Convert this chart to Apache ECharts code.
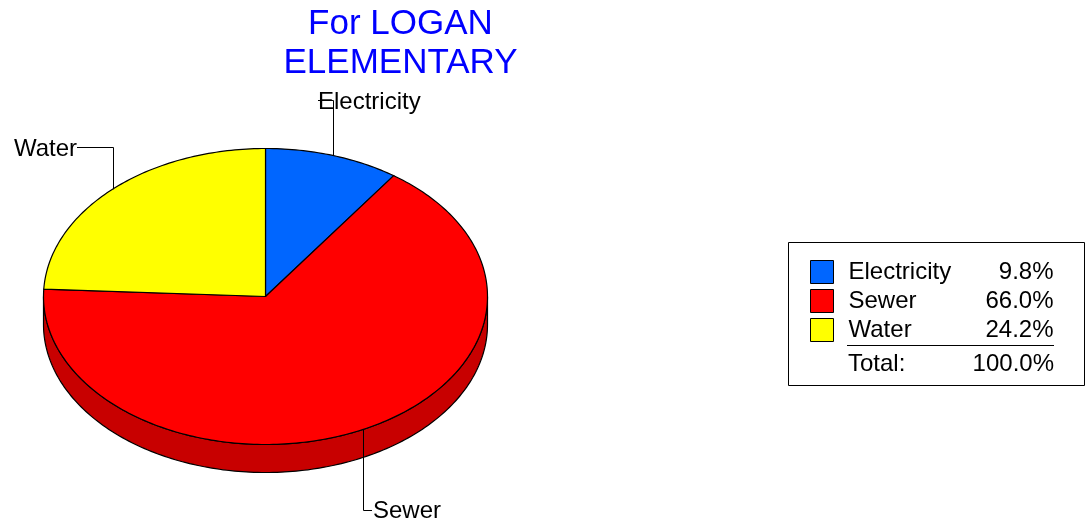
<!DOCTYPE html>
<html>
<head>
<meta charset="utf-8">
<style>html,body{margin:0;padding:0;background:#fff}#c{width:1086px;height:522px}</style>
<script src="https://cdn.jsdelivr.net/npm/echarts@6/dist/echarts.min.js"></script>
</head>
<body>
<div id="c"></div>
<script>
const categories = ['Electricity', 'Sewer', 'Water'];
const shares = [9.8, 66.0, 24.2];
const totalLabel = 'Total:';
const totalValue = '100.0%';
const titleLines = ['For LOGAN', 'ELEMENTARY'];
const colors = ['#0066FF', '#FF0000', '#FFFF00'];
const sideColors = ['#0052CC', '#C80000', '#CCCC00'];

const FONT = '"Liberation Sans", Arial, sans-serif';
const CX = 265.5, CY = 296.5, RX = 222, RY = 148, DEPTH = 28;
const leaders = [
  { x: 318, y: 100, ty: 102, tx: 318, align: 'left' },
  { x: 372, y: 510, ty: 511, tx: 373, align: 'left' },
  { x: 77, y: 147, ty: 149, tx: 77, align: 'right' }
];

const ptAt = (deg, dy) => {
  const a = deg * Math.PI / 180;
  return [CX + RX * Math.sin(a), CY + (dy || 0) - RY * Math.cos(a)];
};
const arc = (from, to, dy) => {
  const pts = [];
  const n = Math.max(2, Math.ceil(Math.abs(to - from)));
  for (let i = 0; i <= n; i++) pts.push(ptAt(from + (to - from) * i / n, dy));
  return pts;
};

const total = shares.reduce((s, v) => s + v, 0);
const series = categories.map((name, idx) => {
  const before = shares.slice(0, idx).reduce((s, v) => s + v, 0);
  return {
    type: 'custom',
    name,
    coordinateSystem: 'none',
    silent: true,
    itemStyle: { color: colors[idx] },
    data: [[shares[idx]]],
    z: 2 + idx,
    renderItem: (params, api) => {
      const value = api.value(0);
      const start = before / total * 360;
      const end = start + value / total * 360;
      const mid = (start + end) / 2;
      const children = [];
      const wallFrom = Math.max(start, 90), wallTo = Math.min(end, 270);
      if (wallTo > wallFrom) {
        children.push({
          type: 'polygon',
          shape: { points: arc(wallFrom, wallTo, 0).concat(arc(wallTo, wallFrom, DEPTH)) },
          style: { fill: sideColors[idx], stroke: '#000', lineWidth: 1.2 }
        });
      }
      children.push({
        type: 'polygon',
        shape: { points: [[CX, CY]].concat(arc(start, end, 0)) },
        style: { fill: colors[idx], stroke: '#000', lineWidth: 1.2 }
      });
      const L = leaders[idx], anchor = ptAt(mid, 0);
      children.push({
        type: 'text',
        z2: 10,
        style: { x: L.tx, y: L.ty, text: name, fill: '#000', font: '24px ' + FONT, align: L.align, verticalAlign: 'middle' }
      });
      children.push({
        type: 'polyline',
        z2: 11,
        shape: { points: [[Math.round(anchor[0]) + 0.5, anchor[1]], [Math.round(anchor[0]) + 0.5, L.y + 0.5], [L.x, L.y + 0.5]] },
        style: { fill: null, stroke: '#000', lineWidth: 1 }
      });
      return { type: 'group', children };
    }
  };
});

const chart = echarts.init(document.getElementById('c'), null, { renderer: 'canvas' });
chart.setOption({
  animation: false,
  backgroundColor: '#fff',
  title: {
    text: titleLines.join('\n'),
    left: 395.5, top: 0,
    textAlign: 'center',
    textStyle: { color: '#0000FF', fontFamily: FONT, fontSize: 35, fontWeight: 'normal', lineHeight: 39 }
  },
  legend: {
    left: 810, top: 260,
    orient: 'vertical',
    icon: 'rect',
    itemWidth: 23, itemHeight: 23, itemGap: 5,
    selectedMode: false,
    padding: 0,
    data: categories,
    itemStyle: { borderColor: '#000', borderWidth: 1 },
    formatter: name => `{n|${name}}{v|${shares[categories.indexOf(name)].toFixed(1)}%}`,
    textStyle: {
      rich: {
        n: { fontFamily: FONT, fontSize: 24, color: '#000', width: 125, height: 23, lineHeight: 23, align: 'left', padding: [0, 0, 0, 10] },
        v: { fontFamily: FONT, fontSize: 24, color: '#000', width: 80, height: 23, lineHeight: 23, align: 'right' }
      }
    }
  },
  graphic: [
    { type: 'rect', z: 0, shape: { x: 788.5, y: 242.5, width: 296, height: 143 }, style: { fill: '#fff', stroke: '#000', lineWidth: 1 } },
    { type: 'line', z: 5, shape: { x1: 847, y1: 345.5, x2: 1054, y2: 345.5 }, style: { stroke: '#000', lineWidth: 1 } },
    { type: 'text', z: 5, style: { x: 848, y: 364, text: totalLabel, fill: '#000', font: '24px ' + FONT, align: 'left', verticalAlign: 'middle' } },
    { type: 'text', z: 5, style: { x: 1054, y: 364, text: totalValue, fill: '#000', font: '24px ' + FONT, align: 'right', verticalAlign: 'middle' } }
  ],
  series
});
</script>
</body>
</html>
